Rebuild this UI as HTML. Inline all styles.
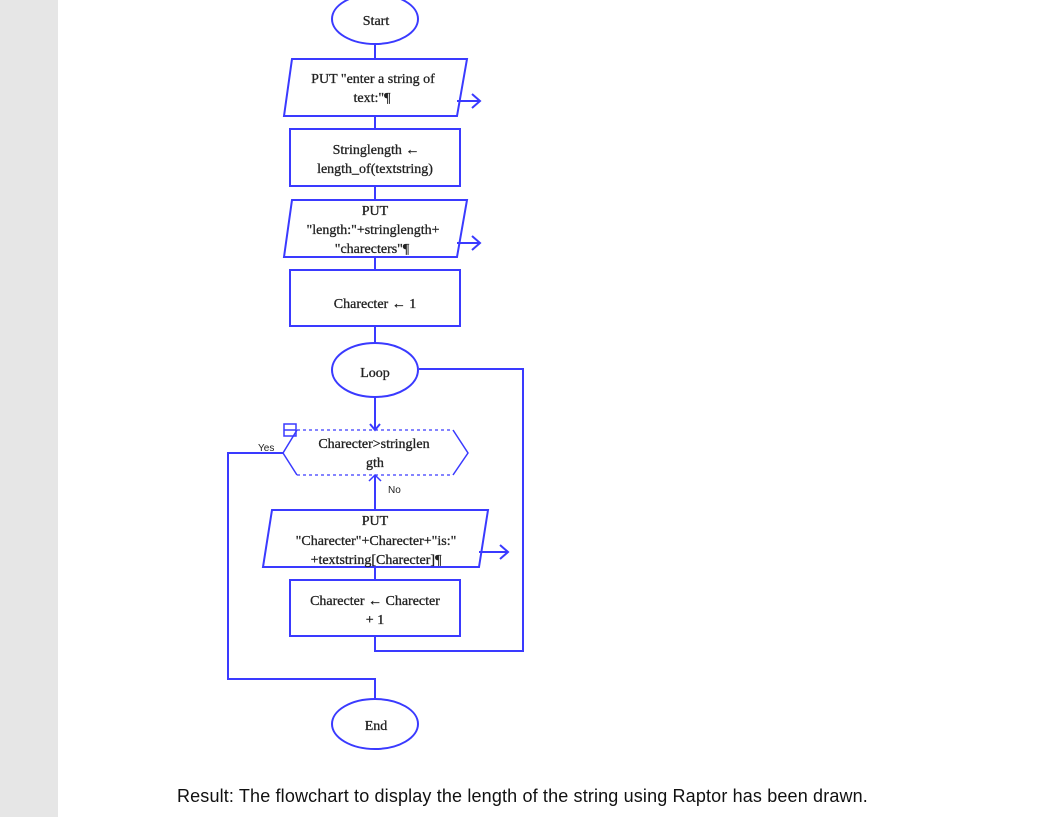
<!DOCTYPE html>
<html><head><style>
html,body{margin:0;padding:0;background:#fff}
body{width:1041px;height:817px;position:relative;overflow:hidden}
.bar{position:absolute;left:0;top:0;width:58px;height:817px;background:#e6e6e6}
svg{position:absolute;left:0;top:0}
text{font-family:"Liberation Serif",serif;font-size:14px;fill:#222;stroke:#222;stroke-width:0.3}
.res{position:absolute;left:177px;top:786px;font-family:"Liberation Sans",sans-serif;font-size:18px;letter-spacing:0.15px;color:#111;white-space:nowrap}
</style></head><body>
<div class="bar"></div>
<svg width="1041" height="817" viewBox="0 0 1041 817">
<g fill="none" stroke="#3a3aff" stroke-width="2">
<ellipse cx="375" cy="19" rx="43" ry="25"/>
<line x1="375" y1="44" x2="375" y2="59"/>
<polygon points="292,59 467,59 457,116 284,116"/>
<path d="M457 101 H480 M472 94 L480 101 L472 108"/>
<line x1="375" y1="116" x2="375" y2="129"/>
<rect x="290" y="129" width="170" height="57"/>
<line x1="375" y1="186" x2="375" y2="200"/>
<polygon points="292,200 467,200 457,257 284,257"/>
<path d="M457 243 H480 M472 236 L480 243 L472 250"/>
<line x1="375" y1="257" x2="375" y2="270"/>
<rect x="290" y="270" width="170" height="56"/>
<line x1="375" y1="326" x2="375" y2="343"/>
<ellipse cx="375" cy="370" rx="43" ry="27"/>
<path d="M419 369 H523 V651 H375 V636"/>
<line x1="375" y1="397" x2="375" y2="430"/>
<path d="M370 424 L375 430 L380 424"/>
<path d="M297,430 L283,453 L297,475 M453,430 L468,453 L453,475" stroke-width="1.5"/>
<path d="M297,430 H453 M297,475 H453" stroke-width="1.2" stroke-dasharray="3,3"/>
<rect x="284" y="424" width="12" height="12" stroke-width="1.5"/>
<line x1="284" y1="430" x2="296" y2="430" stroke-width="1.5"/>
<line x1="375" y1="475" x2="375" y2="510"/>
<path d="M369 481 L375 475 L381 481" stroke-width="1.5"/>
<path d="M283 453 H228 V679 H375 V698"/>
<polygon points="272,510 488,510 479,567 263,567"/>
<path d="M479 552 H508 M500 545 L508 552 L500 559"/>
<line x1="375" y1="567" x2="375" y2="580"/>
<rect x="290" y="580" width="170" height="56"/>
<ellipse cx="375" cy="724" rx="43" ry="25"/>
</g>
<g text-anchor="middle">
<text x="376" y="25">Start</text>
<text x="373" y="83">PUT "enter a string of</text>
<text x="372" y="102">text:"¶</text>
<text x="376" y="154">Stringlength ←</text>
<text x="375" y="173">length_of(textstring)</text>
<text x="375" y="215">PUT</text>
<text x="373" y="234">"length:"+stringlength+</text>
<text x="372" y="253">"charecters"¶</text>
<text x="375" y="308">Charecter ← 1</text>
<text x="375" y="377">Loop</text>
<text x="374" y="448">Charecter&gt;stringlen</text>
<text x="375" y="467">gth</text>
<text x="375" y="525">PUT</text>
<text x="376" y="545">"Charecter"+Charecter+"is:"</text>
<text x="376" y="564">+textstring[Charecter]¶</text>
<text x="375" y="605">Charecter ← Charecter</text>
<text x="375" y="624">+ 1</text>
<text x="376" y="730">End</text>
</g>
<text x="258" y="451" style="font-family:'Liberation Sans',sans-serif;font-size:10px;stroke-width:0">Yes</text>
<text x="388" y="493" style="font-family:'Liberation Sans',sans-serif;font-size:10px;stroke-width:0">No</text>
</svg>
<div class="res">Result: The flowchart to display the length of the string using Raptor has been drawn.</div>
</body></html>
